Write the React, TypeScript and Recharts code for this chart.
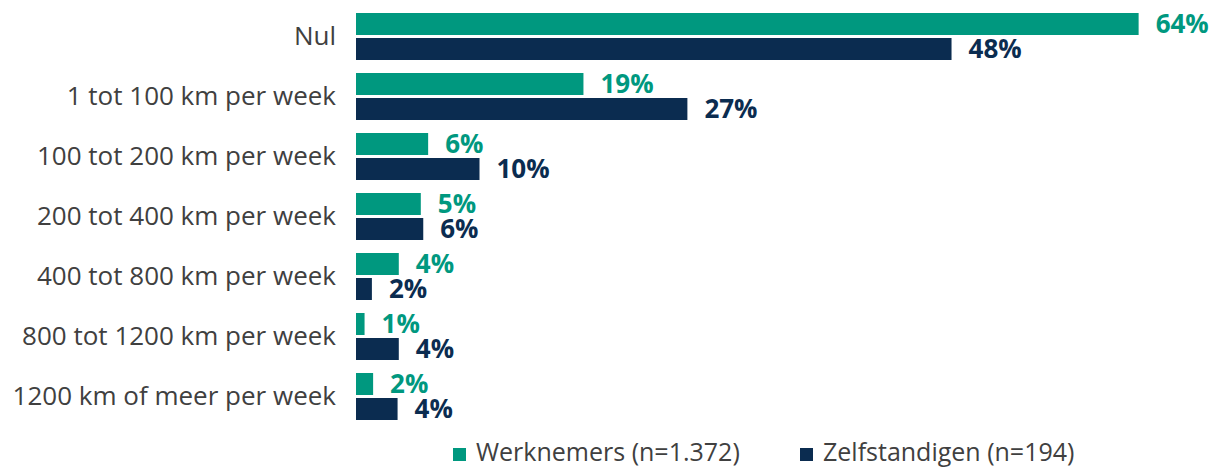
import { BarChart, Bar, XAxis, YAxis, Legend, LabelList } from "recharts";

const categories = [
  "Nul",
  "1 tot 100 km per week",
  "100 tot 200 km per week",
  "200 tot 400 km per week",
  "400 tot 800 km per week",
  "800 tot 1200 km per week",
  "1200 km of meer per week",
];
const werknemers = [64, 18.6, 5.9, 5.3, 3.5, 0.7, 1.4];
const zelfstandigen = [48.7, 27.1, 10.1, 5.5, 1.3, 3.5, 3.4];
const werknemersLabels = ["64%", "19%", "6%", "5%", "4%", "1%", "2%"];
const zelfstandigenLabels = ["48%", "27%", "10%", "6%", "2%", "4%", "4%"];

const GREEN = "#00987f";
const NAVY = "#0b2c50";
const FONT = "'Open Sans', sans-serif";

const data = categories.map((name, i) => ({
  name,
  werk: werknemers[i],
  zelf: zelfstandigen[i],
  werkLabel: werknemersLabels[i],
  zelfLabel: zelfstandigenLabels[i],
}));

const legendX = [453, 800];

function LegendContent({ payload }: any) {
  return (
    <svg width={1215} height={41} style={{ display: "block" }}>
      {(payload || []).map((p: any, i: number) => (
        <g key={p.value}>
          <rect x={legendX[i]} y={22} width={13} height={13} fill={p.color} />
          <text
            x={legendX[i] + 23}
            y={35}
            fill="#404040"
            fontSize={25}
            fontFamily={FONT}
          >
            {p.value}
          </text>
        </g>
      ))}
    </svg>
  );
}

export default function App() {
  return (
    <div style={{ position: "absolute", left: 0, top: 0, fontFamily: FONT }}>
      <BarChart
        width={1215}
        height={467}
        data={data}
        layout="vertical"
        margin={{ top: 6, right: 3, bottom: 0, left: 0 }}
        barSize={22}
        barGap={3}
      >
        <XAxis type="number" domain={[0, 70]} hide />
        <YAxis
          type="category"
          dataKey="name"
          width={356}
          axisLine={false}
          tickLine={false}
          tickMargin={14}
          tick={{ fill: "#404040", fontSize: 26, fontFamily: FONT }}
        />
        <Legend
          verticalAlign="bottom"
          height={41}
          wrapperStyle={{ left: 0, width: 1215, bottom: 0 }}
          content={<LegendContent />}
        />

        {/* Werknemers */}
        <Bar dataKey="werk" name="Werknemers (n=1.372)" fill={GREEN} isAnimationActive={false}>
          <LabelList
            dataKey="werkLabel"
            position="right"
            offset={17}
            style={{ fill: GREEN, fontSize: 26, fontWeight: 700, fontFamily: FONT }}
          />
        </Bar>

        {/* Zelfstandigen */}
        <Bar dataKey="zelf" name="Zelfstandigen (n=194)" fill={NAVY} isAnimationActive={false}>
          <LabelList
            dataKey="zelfLabel"
            position="right"
            offset={17}
            style={{ fill: NAVY, fontSize: 26, fontWeight: 700, fontFamily: FONT }}
          />
        </Bar>
      </BarChart>
    </div>
  );
}
